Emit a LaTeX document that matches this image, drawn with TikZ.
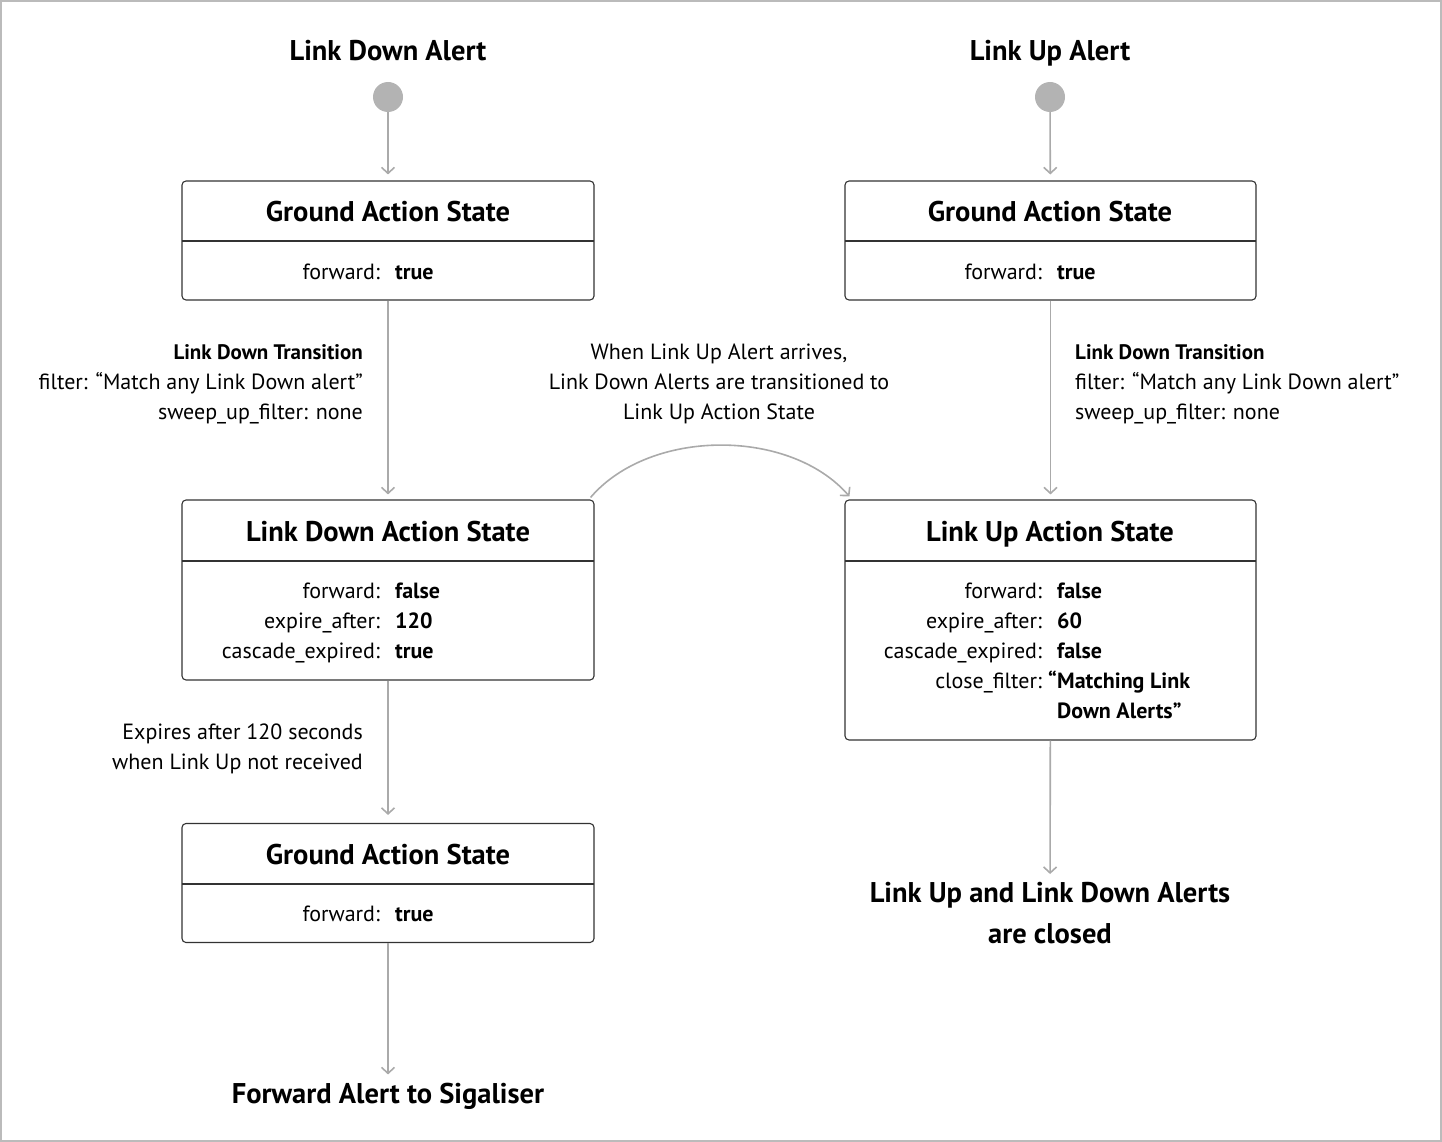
\documentclass[tikz,border=0pt]{standalone}
\usepackage{fontspec}
\setmainfont{PT Sans}
\usetikzlibrary{arrows.meta,positioning}
\definecolor{frame}{HTML}{BBBBBB}
\definecolor{conn}{HTML}{AAAAAA}
\definecolor{boxline}{HTML}{333333}
\definecolor{dotfill}{HTML}{B3B3B3}
\newcommand{\tfont}{\fontsize{28.5}{32}\selectfont\bfseries}
\newcommand{\bfont}{\fontsize{22}{30}\selectfont}
\tikzset{
  statebox/.style={draw=boxline, line width=1.1pt, rounded corners=4pt, inner sep=0pt},
  divider/.style={draw=boxline, line width=1.1pt},
  conn/.style={draw=conn, line width=1.6pt, -{Straight Barb[length=6pt,width=13pt,line width=1.6pt]}},
  ttl/.style={font=\tfont, inner sep=0pt, anchor=base},
  lbl/.style={font=\bfont, inner sep=0pt, anchor=base east},
  val/.style={font=\bfont\bfseries, inner sep=0pt, anchor=base west},
  note/.style={font=\bfont, inner sep=0pt, align=right},
  startdot/.style={circle, fill=dotfill, minimum size=30pt, inner sep=0pt},
}
\begin{document}
\begin{tikzpicture}[x=1pt,y=-1pt]
\useasboundingbox (0,0) rectangle (1442,1142);
\draw[frame, line width=2pt] (1,1) rectangle (1441,1141);

% ---------- left column ----------
\node[ttl] (hl) at (388,61) {Link Down Alert};
\node[startdot] (dl) at (388,97) {};

\node[statebox, minimum width=412pt, minimum height=119pt] (g1) at (388,240.5) {};
\draw[divider] (182,241) -- (594,241);
\node[ttl] (g1t) at (388,222) {Ground Action State};
\node[lbl] (g1l1) at (380,279) {forward:};
\node[val] (g1v1) at (395,279) {true};

\node[statebox, minimum width=412pt, minimum height=180pt] (ld) at (388,590) {};
\draw[divider] (182,561) -- (594,561);
\node[ttl] (ldt) at (388,541) {Link Down Action State};
\node[lbl] (ldl1) at (380,598) {forward:};
\node[val] (ldv1) at (395,598) {false};
\node[lbl] (ldl2) at (380,628) {expire\_after:};
\node[val] (ldv2) at (395,628) {120};
\node[lbl] (ldl3) at (380,658) {cascade\_expired:};
\node[val] (ldv3) at (395,658) {true};

\node[statebox, minimum width=412pt, minimum height=119pt] (g3) at (388,883) {};
\draw[divider] (182,884) -- (594,884);
\node[ttl] (g3t) at (388,864) {Ground Action State};
\node[lbl] (g3l1) at (380,921) {forward:};
\node[val] (g3v1) at (395,921) {true};

\node[ttl] (fw) at (388,1103) {Forward Alert to Sigaliser};

\node[note, anchor=north east] (tl) at (363,344)
  {{\bfseries\fontsize{21}{30}\selectfont Link Down Transition}\\filter: “Match any Link Down alert”\\sweep\_up\_filter: none};
\node[note, anchor=north east] (el) at (363,724)
  {Expires after 120 seconds\\when Link Up not received};

% ---------- middle ----------
\node[note, align=center, anchor=north] (mid) at (719,344)
  {When Link Up Alert arrives,\\Link Down Alerts are transitioned to\\Link Up Action State};

% ---------- right column ----------
\node[ttl] (hr) at (1050,61) {Link Up Alert};
\node[startdot] (dr) at (1050,97) {};

\node[statebox, minimum width=411pt, minimum height=119pt] (g2) at (1050.5,240.5) {};
\draw[divider] (845,241) -- (1256,241);
\node[ttl] (g2t) at (1050,222) {Ground Action State};
\node[lbl] (g2l1) at (1042,279) {forward:};
\node[val] (g2v1) at (1057,279) {true};

\node[statebox, minimum width=411pt, minimum height=240pt] (lu) at (1050.5,620) {};
\draw[divider] (845,561) -- (1256,561);
\node[ttl] (lut) at (1050,541) {Link Up Action State};
\node[lbl] (lul1) at (1042,598) {forward:};
\node[val] (luv1) at (1057,598) {false};
\node[lbl] (lul2) at (1042,628) {expire\_after:};
\node[val] (luv2) at (1057,628) {60};
\node[lbl] (lul3) at (1042,658) {cascade\_expired:};
\node[val] (luv3) at (1057,658) {false};
\node[lbl] (lul4) at (1042,688) {close\_filter:};
\node[val, anchor=base east] (luq) at (1057,688) {“};
\node[val] (luv4) at (1057,688) {Matching Link};
\node[val] (luv5) at (1057,718) {Down Alerts”};

\node[note, align=left, anchor=north west] (tr) at (1075,344)
  {{\bfseries\fontsize{21}{30}\selectfont Link Down Transition}\\filter: “Match any Link Down alert”\\sweep\_up\_filter: none};

\node[ttl, align=center, anchor=north] (cl) at (1050,882)
  {Link Up and Link Down Alerts\\[9pt]are closed};

% ---------- connectors ----------
\draw[conn, shorten >=6pt] (dl) -- (g1);
\draw[conn, shorten >=5pt] (g1) -- (ld);
\draw[conn, shorten >=8pt] (ld) -- (g3);
\draw[conn, shorten >=8pt] (g3) -- (fw.north);
\draw[conn, shorten >=6pt] (dr) -- (g2);
\draw[conn, shorten >=5pt] (g2) -- (lu);
\draw[conn, shorten >=8pt] (lu) -- (cl);
\coordinate (cs) at ([xshift=-4pt,yshift=2pt]ld.north east);
\coordinate (ce) at ([xshift=5pt,yshift=3pt]lu.north west);
\draw[conn] (cs) .. controls (650,428) and (790,428) .. (ce);
\end{tikzpicture}
\end{document}
